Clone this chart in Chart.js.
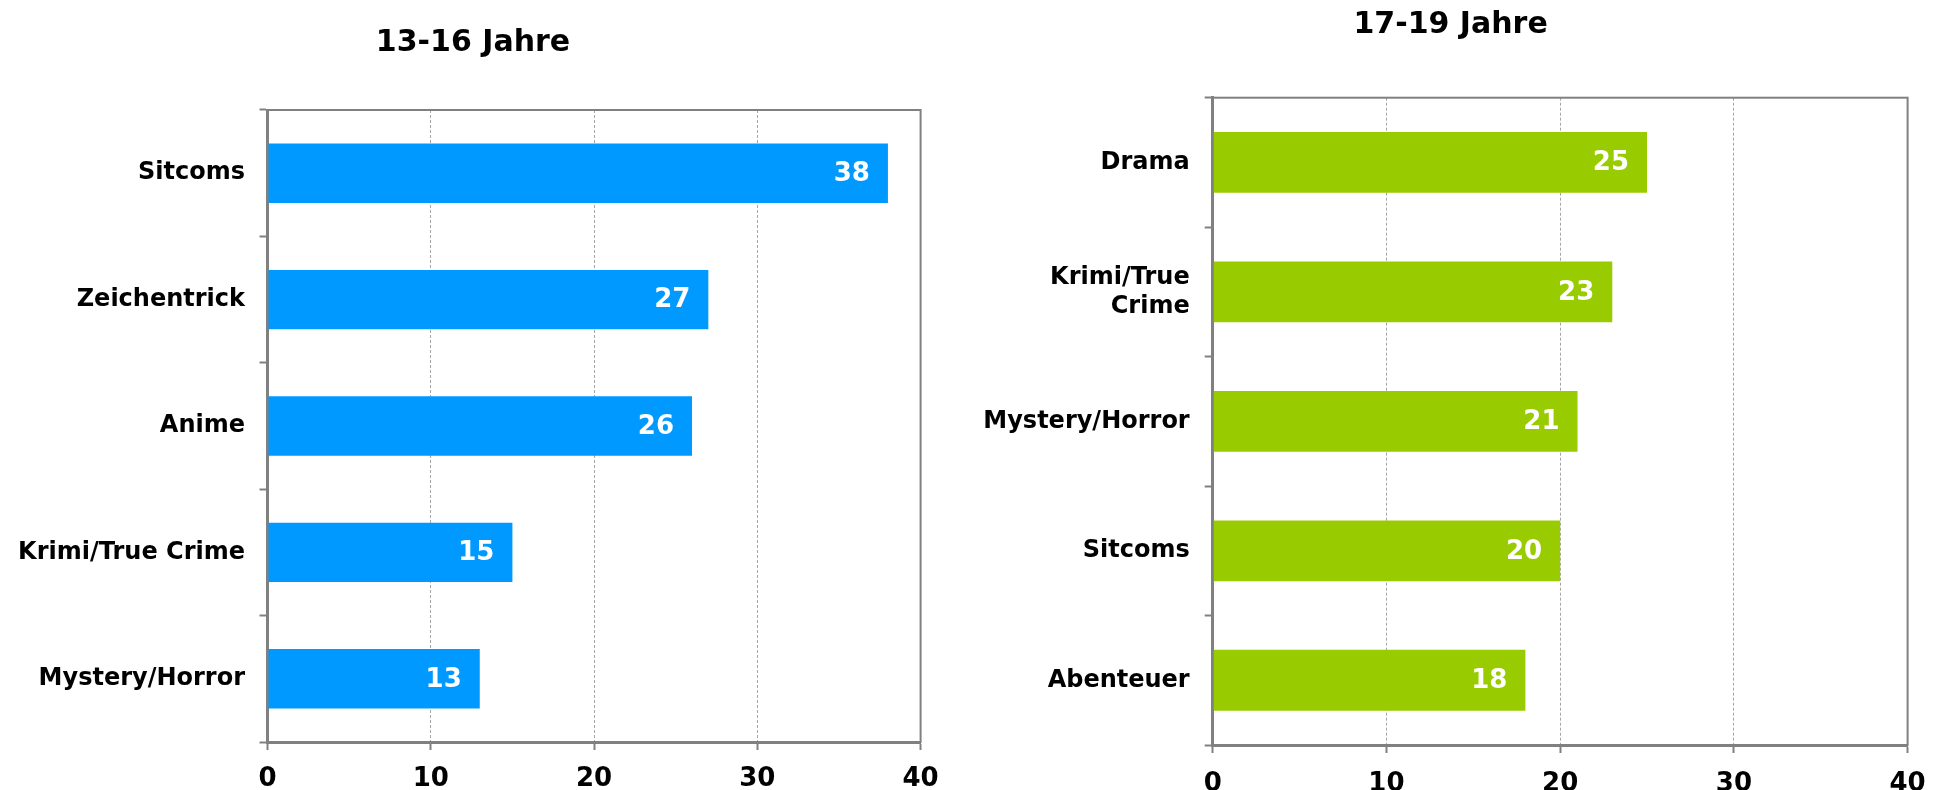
<!DOCTYPE html>
<html>
<head>
<meta charset="utf-8">
<script src="https://cdn.jsdelivr.net/npm/chart.js@4.4.1/dist/chart.umd.min.js"></script>
<style>
    body {
        margin: 0;
        background: #fff;
        width: 1943px;
        height: 790px;
        overflow: hidden;
        position: relative;
    }

    #chartYoung {
        position: absolute;
        left: 0;
        top: 0;
    }

    #chartOld {
        position: absolute;
        left: 960px;
        top: 0;
    }
</style>
</head>
<body>
<canvas id="chartYoung" width="960" height="790"></canvas>
<canvas id="chartOld" width="983" height="790"></canvas>

<script>
    // data
    const youngTitle = '13-16 Jahre'
    const youngGenres = ['Sitcoms', 'Zeichentrick', 'Anime', 'Krimi/True Crime', 'Mystery/Horror']
    const youngValues = [38, 27, 26, 15, 13]

    const oldTitle = '17-19 Jahre'
    const oldGenres = ['Drama', ['Krimi/True', 'Crime'], 'Mystery/Horror', 'Sitcoms', 'Abenteuer']
    const oldValues = [25, 23, 21, 20, 18]

    const xTicks = [0, 10, 20, 30, 40]

    const fontFamily = '"DejaVu Sans", Verdana, sans-serif'
    const axisGray = '#808080'

    // white numbers at the end of each bar
    const valueLabels = {
        id: 'valueLabels',
        afterDatasetsDraw(chart) {
            const ctx = chart.ctx
            const values = chart.data.datasets[0].data
            ctx.save()
            ctx.font = 'bold 26px ' + fontFamily
            ctx.fillStyle = '#fff'
            ctx.textAlign = 'right'
            ctx.textBaseline = 'middle'
            chart.getDatasetMeta(0).data.forEach((bar, i) => {
                ctx.fillText(values[i], bar.x - 18, bar.y + 1)
            })
            ctx.restore()
        }
    }

    // grey box round the plot area
    const frame = {
        id: 'frame',
        afterDraw(chart) {
            const a = chart.chartArea
            const ctx = chart.ctx
            ctx.save()
            ctx.strokeStyle = axisGray
            ctx.lineWidth = 2
            ctx.strokeRect(a.left, a.top, a.width, a.height)
            ctx.restore()
        }
    }

    // title placed at a fixed spot (the built-in one centres on the chart box)
    const placedTitle = {
        id: 'placedTitle',
        afterDraw(chart, args, opts) {
            const ctx = chart.ctx
            ctx.save()
            ctx.font = 'bold 30px ' + fontFamily
            ctx.fillStyle = '#000'
            ctx.textAlign = 'center'
            ctx.textBaseline = 'middle'
            ctx.fillText(opts.text, opts.x, opts.y)
            ctx.restore()
        }
    }

    function makeChart(id, title, genres, values, color, box) {
        return new Chart(document.getElementById(id), {
            type: 'bar',
            data: {
                labels: genres,
                datasets: [{
                    data: values,
                    backgroundColor: color,
                    borderWidth: 0,
                    barPercentage: 0.47,
                    categoryPercentage: 1
                }]
            },
            options: {
                indexAxis: 'y',
                responsive: false,
                animation: false,
                devicePixelRatio: 1,
                layout: {
                    padding: { left: 0, right: box.right, top: box.top, bottom: 0 }
                },
                plugins: {
                    legend: { display: false },
                    tooltip: { enabled: false },
                    title: { display: false },
                    placedTitle: { text: title, x: box.titleX, y: box.titleY }
                },
                scales: {
                    x: {
                        min: 0,
                        max: 40,
                        afterBuildTicks: (scale) => {
                            scale.ticks = xTicks.map(v => ({ value: v }))
                        },
                        afterFit: (scale) => {
                            scale.height = box.axisHeight
                        },
                        border: { display: true, color: axisGray, width: 3, dash: [3, 2] },
                        grid: {
                            color: '#a6a6a6',
                            lineWidth: 1,
                            tickColor: axisGray,
                            tickLength: 8,
                            tickWidth: 2,
                            tickBorderDash: []
                        },
                        ticks: {
                            color: '#000',
                            padding: box.xPad,
                            maxRotation: 0,
                            font: { family: fontFamily, size: 26, weight: 'bold' }
                        }
                    },
                    y: {
                        afterFit: (scale) => {
                            scale.width = box.left
                        },
                        border: { display: true, color: axisGray, width: 3 },
                        grid: {
                            drawOnChartArea: false,
                            tickColor: axisGray,
                            tickLength: 8,
                            tickWidth: 2
                        },
                        ticks: {
                            color: '#000',
                            padding: box.yPad,
                            font: { family: fontFamily, size: 24, weight: 'bold', lineHeight: 1.2 }
                        }
                    }
                }
            },
            plugins: [valueLabels, frame, placedTitle]
        })
    }

    makeChart('chartYoung', youngTitle, youngGenres, youngValues, '#0099FF', {
        left: 267.5, right: 39.4, top: 110, axisHeight: 48,
        titleX: 473, titleY: 43, xPad: 14, yPad: 14.5
    })

    makeChart('chartOld', oldTitle, oldGenres, oldValues, '#99CC00', {
        left: 252.7, right: 35.4, top: 97.7, axisHeight: 45,
        titleX: 490.6, titleY: 25, xPad: 16, yPad: 15
    })
</script>
</body>
</html>
